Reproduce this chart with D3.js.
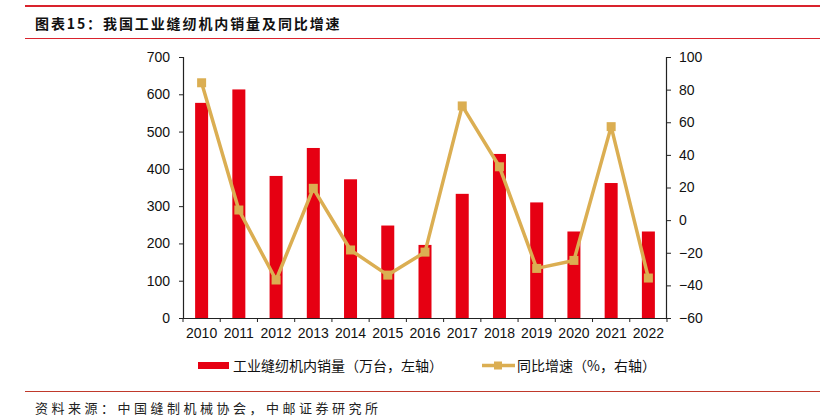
<!DOCTYPE html>
<html><head><meta charset="utf-8">
<script src="https://cdn.jsdelivr.net/npm/d3@7"></script>
<style>body{margin:0;background:#fff;} svg{display:block;}</style>
</head><body>
<svg id="c" width="820" height="417"></svg>
<script>
const years = ["2010","2011","2012","2013","2014","2015","2016","2017","2018","2019","2020","2021","2022"];
const sales = [577, 613, 381, 456, 372, 248, 196, 333, 440, 310, 232, 362, 232];
const growth = [84.2, 6.2, -36.7, 19.5, -18.3, -33.7, -19.6, 70, 32.7, -29.6, -24.7, 57.3, -35.5];
const leftTicks = [0,100,200,300,400,500,600,700];
const rightTicks = [-60,-40,-20,0,20,40,60,80,100];
const title = "图表15：我国工业缝纫机内销量及同比增速";
const source = "资料来源：中国缝制机械协会，中邮证券研究所";
const legendBar = "工业缝纫机内销量（万台，左轴）";
const legendLine = "同比增速（%，右轴）";

const svg = d3.select("#c");
const RED = "#E60012", GOLD = "#DBAE52", AX = "#222";
const font = "Liberation Sans, Arial, sans-serif";
const cjk = "'Noto Sans CJK SC', sans-serif";

// header / footer rules
svg.append("line").attr("x1",25).attr("x2",820).attr("y1",6).attr("y2",6).attr("stroke","#D9232D").attr("stroke-width",2);
svg.append("line").attr("x1",25).attr("x2",820).attr("y1",38.5).attr("y2",38.5).attr("stroke","#D9232D").attr("stroke-width",1);
svg.append("line").attr("x1",25).attr("x2",820).attr("y1",391.5).attr("y2",391.5).attr("stroke","#C0392B").attr("stroke-width",1);
svg.append("text").attr("x",35).attr("y",29).attr("font-family",cjk).attr("font-weight","bold")
  .attr("font-size",14).attr("letter-spacing",1.9).attr("fill","#111").text(title);
svg.append("text").attr("x",35).attr("y",413).attr("font-family",cjk)
  .attr("font-size",13).attr("letter-spacing",3.5).attr("fill","#222").text(source);

const x0 = 183, x1 = 667, yTop = 57, yBot = 318;
const x = d3.scaleBand().domain(years).range([x0, x1]).paddingInner(0).paddingOuter(0);
const yL = d3.scaleLinear().domain([0,700]).range([yBot, yTop]);
const yR = d3.scaleLinear().domain([-60,100]).range([yBot, yTop]);

// bars
svg.append("g").selectAll("rect").data(years).join("rect")
  .attr("x", d => x(d) + x.bandwidth()/2 - 6.5)
  .attr("width", 13)
  .attr("y", (d,i) => yL(sales[i]))
  .attr("height", (d,i) => yBot - yL(sales[i]))
  .attr("fill", RED);

// axes
const gL = svg.append("g").attr("transform",`translate(${x0},0)`)
  .call(d3.axisLeft(yL).tickValues(leftTicks).tickSize(4).tickPadding(9));
const gR = svg.append("g").attr("transform",`translate(${x1},0)`)
  .call(d3.axisRight(yR).tickValues(rightTicks).tickSize(4).tickPadding(8));
const gX = svg.append("g").attr("transform",`translate(0,${yBot})`)
  .call(d3.axisBottom(x).tickSize(0).tickPadding(10));
// category boundary ticks
const bounds = years.map(d => x(d)).concat([x1]);
svg.append("g").selectAll("line").data(bounds).join("line")
  .attr("x1", d=>d).attr("x2", d=>d).attr("y1", yBot).attr("y2", yBot+4)
  .attr("stroke", AX);
[gL,gR,gX].forEach(g => {
  g.selectAll("path.domain").attr("stroke", AX).attr("stroke-width",1.2);
  g.selectAll(".tick line").attr("stroke", AX);
  g.selectAll("text").attr("font-family", font).attr("font-size", 14).attr("fill","#111");
});
gX.select("path.domain").attr("d", `M${x0},0.5H${x1}`);
gL.select("path.domain").attr("d", `M-4,${yTop}.5H0.5V${yBot}`);
gR.select("path.domain").attr("d", `M4,${yTop}.5H-0.5V${yBot}`);

// line
const line = d3.line().x((d,i) => x(years[i]) + x.bandwidth()/2).y(d => yR(d));
svg.append("path").datum(growth).attr("d", line).attr("fill","none")
  .attr("stroke", GOLD).attr("stroke-width", 3.5).attr("stroke-linejoin","round");
svg.append("g").selectAll("rect").data(growth).join("rect")
  .attr("x",(d,i)=> x(years[i]) + x.bandwidth()/2 - 4.5)
  .attr("y", d => yR(d) - 4.5)
  .attr("width",9).attr("height",9).attr("fill",GOLD);

// legend
svg.append("rect").attr("x",198).attr("y",362).attr("width",31).attr("height",7).attr("fill",RED);
svg.append("text").attr("x",233).attr("y",371).attr("font-family",cjk).attr("font-size",14).attr("fill","#111").text(legendBar);
svg.append("line").attr("x1",482).attr("x2",515).attr("y1",365.5).attr("y2",365.5).attr("stroke",GOLD).attr("stroke-width",3.5);
svg.append("rect").attr("x",494).attr("y",361.5).attr("width",8).attr("height",8).attr("fill",GOLD);
svg.append("text").attr("x",517).attr("y",371).attr("font-family",cjk).attr("font-size",14).attr("fill","#111").text(legendLine);
</script>
</body></html>
